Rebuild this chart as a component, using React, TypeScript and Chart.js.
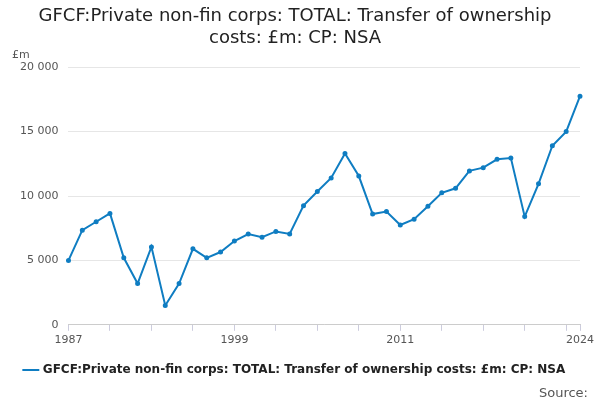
import React, { useEffect, useRef } from "react";
import { Chart, registerables } from "chart.js";
Chart.register(...registerables);

const years: string[] = [];
for (let y = 1987; y <= 2024; y++) years.push(String(y));
const values = [5000, 7350, 8000, 8650, 5200, 3200, 6050, 1500, 3200, 5900, 5200, 5650, 6500, 7050, 6800, 7250, 7050, 9250, 10350, 11400, 13300, 11550, 8600, 8800, 7750, 8200, 9200, 10250, 10600, 11950, 12200, 12850, 12950, 8400, 10950, 13900, 15000, 17750];
const shownLabels = ["1987", "1999", "2011", "2024"];
const seriesName = "GFCF:Private non-fin corps: TOTAL: Transfer of ownership costs: £m: CP: NSA";

export default function App() {
  const ref = useRef<HTMLCanvasElement>(null);
  useEffect(() => {
    const chart = new Chart(ref.current!, {
      type: "line",
      data: {
        labels: years,
        datasets: [{
          label: seriesName, data: values, borderColor: "#0f7dc2", backgroundColor: "#0f7dc2",
          borderWidth: 2, pointRadius: 1.5, pointHoverRadius: 2, tension: 0,
        }],
      },
      options: {
        animation: false, responsive: false,
        layout: { padding: { left: 10, right: 20, top: 0, bottom: 14 } },
        plugins: {
          title: { display: true, text: ["GFCF:Private non-fin corps: TOTAL: Transfer of ownership", "costs: £m: CP: NSA"], color: "#222", font: { family: "DejaVu Sans", size: 18, weight: "normal" }, padding: { top: 6, bottom: 18 } },
          legend: { position: "bottom", labels: { usePointStyle: true, pointStyle: "line", color: "#222", font: { family: "DejaVu Sans", size: 12, weight: "bold" }, boxWidth: 18, padding: 14 } },
          tooltip: { enabled: false },
        },
        scales: {
          x: {
            grid: { display: true, drawOnChartArea: false, color: "#ccd", tickLength: 6 },
            border: { color: "#ccc" },
            afterBuildTicks: (axis: any) => {
              axis.ticks = axis.ticks.filter((t: any) => t.value % 3 === 0 || t.value === years.length - 1);
            },
            ticks: {
              autoSkip: false, maxRotation: 0, color: "#555", font: { family: "DejaVu Sans", size: 11 },
              callback: function (this: any, v: any) { const l = years[v]; return shownLabels.includes(l) ? l : ""; },
            },
          },
          y: {
            min: 0, max: 20000,
            grid: { color: "#e6e6e6", drawTicks: false },
            border: { display: false },
            ticks: { stepSize: 5000, padding: 10, color: "#555", font: { family: "DejaVu Sans", size: 11 }, callback: (v: any) => v === 0 ? "0" : String(v).replace(/(\d+)(\d{3})$/, "$1 $2") },
          },
        },
      },
      plugins: [{
        id: "extra",
        afterDraw: (c: any) => {
          const ctx = c.ctx; ctx.save();
          ctx.fillStyle = "#555"; ctx.font = "11px DejaVu Sans"; ctx.textAlign = "left";
          ctx.fillText("£m", 12, c.scales.y.top - 12);
          ctx.textAlign = "right"; ctx.font = "13px DejaVu Sans";
          ctx.fillText("Source:", 588, 394);
          ctx.restore();
        },
      }],
    } as any);
    return () => chart.destroy();
  }, []);
  return <canvas ref={ref} width={600} height={400} style={{ position: "absolute", left: 0, top: 0 }} />;
}
